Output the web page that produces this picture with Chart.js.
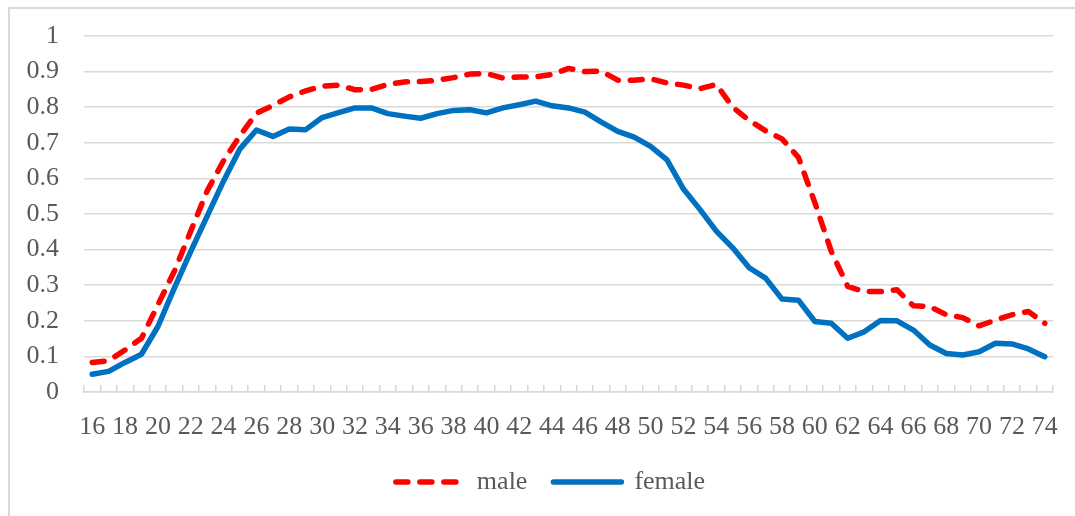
<!DOCTYPE html>
<html>
<head>
<meta charset="utf-8">
<script src="https://cdn.jsdelivr.net/npm/chart.js@4/dist/chart.umd.min.js"></script>
<style>
  html, body { margin: 0; padding: 0; background: #fff; }
  #wrap { position: relative; width: 1075px; height: 516px; overflow: hidden; }
  #frame { position: absolute; left: 8px; top: 7px; width: 1200px; height: 600px;
           border-top: 2px solid #d9d9d9; border-left: 2px solid #d9d9d9; }
  #chart-id { position: absolute; left: 0; top: 0; }
</style>
</head>
<body>
<div id="wrap">
  <div id="frame"></div>
  <canvas id="chart-id" width="1075" height="516"></canvas>
</div>
<script>
'use strict';

// ages 16..74
var ages = [];
for (var a = 16; a <= 74; a++) {
  ages.push(String(a));
}

var maleRate = [0.083, 0.088, 0.118, 0.151, 0.245, 0.339, 0.452, 0.565, 0.650, 0.720,
  0.783, 0.805, 0.829, 0.846, 0.859, 0.862, 0.849, 0.850, 0.864, 0.871,
  0.872, 0.876, 0.883, 0.893, 0.895, 0.882, 0.885, 0.885, 0.892, 0.909,
  0.900, 0.901, 0.876, 0.876, 0.880, 0.868, 0.862, 0.852, 0.864, 0.800,
  0.763, 0.734, 0.711, 0.659, 0.532, 0.395, 0.297, 0.282, 0.282, 0.287,
  0.242, 0.240, 0.217, 0.209, 0.186, 0.202, 0.217, 0.226, 0.193];

var femaleRate = [0.050, 0.058, 0.083, 0.106, 0.184, 0.292, 0.395, 0.494, 0.593, 0.683,
  0.736, 0.718, 0.739, 0.737, 0.771, 0.785, 0.798, 0.798, 0.782, 0.775,
  0.769, 0.782, 0.791, 0.793, 0.784, 0.798, 0.807, 0.817, 0.804, 0.798,
  0.786, 0.758, 0.732, 0.716, 0.690, 0.652, 0.570, 0.513, 0.452, 0.405,
  0.349, 0.320, 0.261, 0.258, 0.198, 0.193, 0.151, 0.169, 0.201, 0.200,
  0.174, 0.132, 0.108, 0.104, 0.113, 0.137, 0.135, 0.121, 0.099];

var yTicks = [0, 0.1, 0.2, 0.3, 0.4, 0.5, 0.6, 0.7, 0.8, 0.9, 1];

var gridColor = '#d9d9d9';
var textColor = '#595959';
var fontFamily = '"Liberation Serif", "Times New Roman", serif';

Chart.defaults.font.family = fontFamily;
Chart.defaults.font.size = 26;
Chart.defaults.color = textColor;

// nudge the legend a bit right, like the original
var legendShift = {
  id: 'legendShift',
  afterLayout: function (chart) {
    if (chart.legend) {
      chart.legend.left += 24;
      chart.legend.right += 24;
    }
  }
};

var ctx = document.getElementById('chart-id').getContext('2d');
var chart = new Chart(ctx, {
  type: 'line',
  data: {
    labels: ages,
    datasets: [{
      label: 'male',
      data: maleRate,
      borderColor: '#ff0000',
      backgroundColor: '#ff0000',
      borderWidth: 5.5,
      borderDash: [12, 12],
      borderCapStyle: 'round',
      borderJoinStyle: 'round',
      pointRadius: 0,
      tension: 0,
      fill: false
    },
    {
      label: 'female',
      data: femaleRate,
      borderColor: '#0070c0',
      backgroundColor: '#0070c0',
      borderWidth: 5.5,
      borderCapStyle: 'round',
      borderJoinStyle: 'round',
      pointRadius: 0,
      tension: 0,
      fill: false
    }]
  },
  plugins: [legendShift],
  options: {
    responsive: false,
    animation: false,
    layout: {
      padding: { left: 0, right: 22, top: 36, bottom: 11 }
    },
    plugins: {
      tooltip: { enabled: false },
      legend: {
        position: 'bottom',
        labels: {
          usePointStyle: true,
          pointStyle: 'line',
          pointStyleWidth: 68,
          boxHeight: 26,
          padding: 26,
          color: textColor,
          font: { size: 26 },
          // point style legend loses the dash, so copy it back from the dataset
          generateLabels: function (chart) {
            var items = Chart.defaults.plugins.legend.labels.generateLabels(chart);
            items.forEach(function (item) {
              var ds = chart.data.datasets[item.datasetIndex];
              item.lineDash = ds.borderDash || [];
              item.lineWidth = ds.borderWidth;
              item.lineCap = 'round';
              item.strokeStyle = ds.borderColor;
            });
            return items;
          }
        }
      }
    },
    scales: {
      x: {
        offset: true,
        afterFit: function (scale) {
          scale.height = 51;
        },
        grid: {
          offset: true,
          drawOnChartArea: false,
          drawTicks: true,
          tickLength: -7,
          color: gridColor,
          lineWidth: 1.5
        },
        border: { color: gridColor, width: 1.5 },
        ticks: {
          autoSkip: false,
          maxRotation: 0,
          padding: 0,
          font: { size: 26, lineHeight: 3.23 },
          callback: function (value, index) {
            return index % 2 === 0 ? ages[index] : '';
          }
        }
      },
      y: {
        min: 0,
        max: 1,
        afterBuildTicks: function (scale) {
          scale.ticks = yTicks.map(function (v) { return { value: v }; });
        },
        afterFit: function (scale) {
          scale.width = 84;
        },
        grid: {
          color: gridColor,
          lineWidth: 1.5,
          drawTicks: true,
          tickLength: 22,
          tickColor: 'rgba(0,0,0,0)'
        },
        border: { display: false },
        ticks: {
          autoSkip: false,
          padding: 3,
          callback: function (value) {
            return String(Math.round(value * 10) / 10);
          }
        }
      }
    }
  }
});
</script>
</body>
</html>
